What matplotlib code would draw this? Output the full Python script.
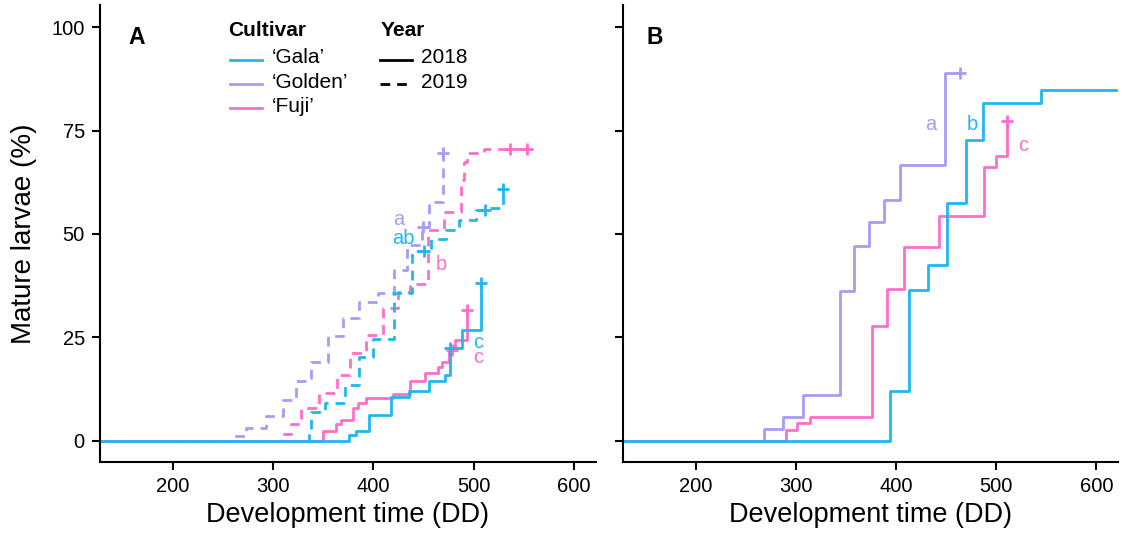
import matplotlib
matplotlib.use("Agg")
import matplotlib.pyplot as plt

plt.rcParams["font.family"] = ["Liberation Sans", "DejaVu Sans"]

BLUE = "#22b6ef"
PURPLE = "#a89cf4"
PINK = "#ff6ec9"
DASH = (3.5, 2.5)

# --- Panel A: 2018 (solid) and 2019 (dashed) ---
gala18_t = [376, 383, 396, 418, 436, 456, 471, 476, 488, 507]
gala18_v = [1.4, 2.4, 6.3, 10.5, 12.0, 14.3, 15.8, 22.5, 26.7, 38.2]
gala18_cens = [476, 507]

fuji18_t = [350, 363, 368, 380, 385, 393, 420, 437, 452, 464, 468, 475, 481, 493]
fuji18_v = [2.4, 4.0, 4.9, 7.9, 9.1, 10.3, 11.3, 14.5, 16.4, 17.8, 19.0, 21.8, 24.4, 31.6]
fuji18_cens = [478, 493]

golden19_t = [261, 273, 293, 310, 323, 338, 355, 370, 386, 405, 421, 434, 449, 456, 469]
golden19_v = [1.0, 3.0, 6.0, 9.8, 14.5, 18.9, 25.2, 29.6, 33.6, 35.8, 41.3, 47.3, 51.6, 57.8, 69.5]
golden19_cens = [450, 469]

gala19_t = [336, 338, 352, 372, 386, 400, 421, 439, 458, 472, 485, 502, 512, 529]
gala19_v = [3.0, 6.8, 9.0, 13.5, 20.3, 24.5, 35.7, 46.0, 48.7, 51.0, 53.4, 55.8, 56.2, 61.0]
gala19_cens = [451, 511, 529]

fuji19_t = [308, 318, 328, 346, 364, 377, 393, 410, 425, 437, 455, 470, 487, 490, 493, 510]
fuji19_v = [1.5, 4.0, 7.8, 11.6, 15.9, 21.3, 25.6, 32.0, 36.0, 38.0, 51.0, 55.4, 63.0, 67.5, 69.5, 70.5]
fuji19_cens = [536, 553]

# --- Panel B ---
goldenB_t = [268, 287, 307, 344, 358, 373, 388, 404, 449]
goldenB_v = [2.8, 5.6, 11.1, 36.1, 47.2, 52.8, 58.3, 66.7, 88.9]
goldenB_cens = [464]

fujiB_t = [290, 301, 314, 376, 391, 408, 443, 488, 500, 511]
fujiB_v = [2.6, 4.2, 5.7, 27.7, 36.7, 46.9, 54.4, 66.1, 68.9, 77.3]
fujiB_cens = [511]

galaB_t = [394, 413, 432, 451, 470, 487, 545]
galaB_v = [12.1, 36.4, 42.4, 57.6, 72.7, 81.8, 84.8]
galaB_cens = []

cultivars = ["\u2018Gala\u2019", "\u2018Golden\u2019", "\u2018Fuji\u2019"]
years = ["2018", "2019"]

XLIM = (127, 622)
YLIM = (-5.2, 105.4)


def level_at(t, v, x):
    out = 0.0
    for ti, vi in zip(t, v):
        if ti <= x:
            out = vi
    return out


def draw_curve(ax, t, v, cens, color, dashed=False, end=None):
    xs = [100] + list(t)
    ys = [0] + list(v)
    last = end if end is not None else max(list(t) + list(cens))
    xs.append(last)
    ys.append(ys[-1])
    line, = ax.step(xs, ys, where="post", color=color, lw=2.0)
    if dashed:
        line.set_dashes(DASH)
    for c in cens:
        ax.plot(c, level_at(t, v, c), marker="+", ms=9, mew=2.0, color=color, ls="none")


def style_axes(ax, show_ylabels=True):
    ax.set_xlim(*XLIM)
    ax.set_ylim(*YLIM)
    ax.set_xticks([200, 300, 400, 500, 600])
    ax.set_yticks([0, 25, 50, 75, 100])
    for s in ("top", "right"):
        ax.spines[s].set_visible(False)
    for s in ("left", "bottom"):
        ax.spines[s].set_linewidth(1.5)
    ax.tick_params(direction="out", length=6, width=1.5, labelsize=14.5, pad=5)
    if not show_ylabels:
        ax.set_yticklabels([])
    ax.set_xlabel("Development time (DD)", fontsize=19.5, labelpad=4)


fig = plt.figure(figsize=(11.24, 5.35), dpi=100)
axA = fig.add_axes([0.089, 0.1364, 0.441, 0.854])
axB = fig.add_axes([0.554, 0.1364, 0.441, 0.854])

draw_curve(axA, golden19_t, golden19_v, golden19_cens, PURPLE, dashed=True)
draw_curve(axA, fuji19_t, fuji19_v, fuji19_cens, PINK, dashed=True)
draw_curve(axA, gala19_t, gala19_v, gala19_cens, BLUE, dashed=True)
draw_curve(axA, fuji18_t, fuji18_v, fuji18_cens, PINK)
draw_curve(axA, gala18_t, gala18_v, gala18_cens, BLUE)

draw_curve(axB, goldenB_t, goldenB_v, goldenB_cens, PURPLE)
draw_curve(axB, fujiB_t, fujiB_v, fujiB_cens, PINK)
draw_curve(axB, galaB_t, galaB_v, galaB_cens, BLUE, end=700)

style_axes(axA)
style_axes(axB, show_ylabels=False)
axA.set_ylabel("Mature larvae (%)", fontsize=20, labelpad=10)

# significance letters
axA.text(425, 53.5, "a", color=PURPLE, fontsize=14.5, ha="center", va="center")
axA.text(430, 49, "ab", color=BLUE, fontsize=14.5, ha="center", va="center")
axA.text(468, 42.5, "b", color=PINK, fontsize=14.5, ha="center", va="center")
axA.text(505, 23.8, "c", color=BLUE, fontsize=14.5, ha="center", va="center")
axA.text(505, 20.2, "c", color=PINK, fontsize=14.5, ha="center", va="center")

axB.text(435, 76.5, "a", color=PURPLE, fontsize=14.5, ha="center", va="center")
axB.text(476, 76.5, "b", color=BLUE, fontsize=14.5, ha="center", va="center")
axB.text(527, 71.5, "c", color=PINK, fontsize=14.5, ha="center", va="center")

axA.text(0.058, 0.930, "A", transform=axA.transAxes, fontsize=16.5, fontweight="bold", va="center")
axB.text(0.048, 0.930, "B", transform=axB.transAxes, fontsize=16.5, fontweight="bold", va="center")

# two-column key: cultivar colour and year line style
tA = axA.transAxes
rows = [0.886, 0.8315, 0.779]
axA.text(0.259, 0.9453, "Cultivar", transform=tA, fontsize=15, fontweight="bold", va="center")
for name, color, y in zip(cultivars, (BLUE, PURPLE, PINK), rows):
    axA.plot([0.262, 0.327], [y - 0.005, y - 0.005], color=color, lw=2, transform=tA, clip_on=False)
    axA.text(0.347, y, name, transform=tA, fontsize=15, va="center")

axA.text(0.5665, 0.9453, "Year", transform=tA, fontsize=15, fontweight="bold", va="center")
for label, dashed, y in zip(years, (False, True), rows[:2]):
    ln, = axA.plot([0.5645, 0.629], [y - 0.005, y - 0.005], color="black", lw=2,
                   transform=tA, clip_on=False)
    if dashed:
        ln.set_dashes(DASH)
    axA.text(0.647, y, label, transform=tA, fontsize=15, va="center")

fig.savefig("out.png", dpi=100)
